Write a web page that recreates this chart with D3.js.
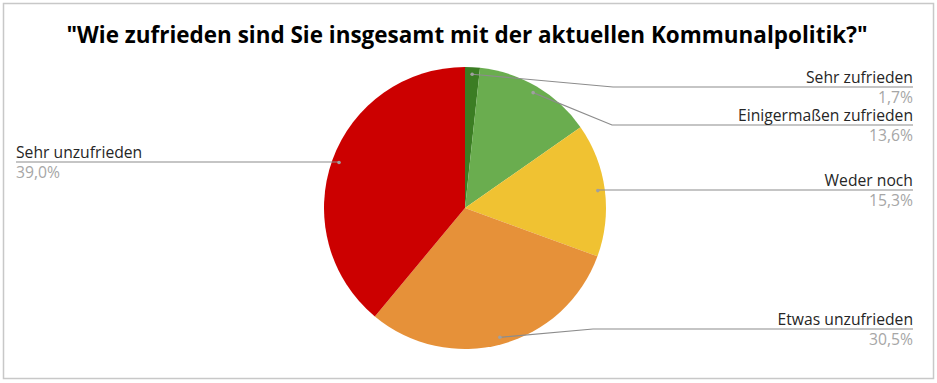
<!DOCTYPE html>
<html><head><meta charset="utf-8">
<script src="https://cdn.jsdelivr.net/npm/d3@7"></script>
<style>body{margin:0;background:#fff}svg{display:block}</style>
</head><body>
<script>
const title = '"Wie zufrieden sind Sie insgesamt mit der aktuellen Kommunalpolitik?"';
const categories = ["Sehr zufrieden","Einigermaßen zufrieden","Weder noch","Etwas unzufrieden","Sehr unzufrieden"];
const values = [1.7, 13.6, 15.3, 30.5, 39.0];
const valueLabels = ["1,7%","13,6%","15,3%","30,5%","39,0%"];
const colors = ["#3b7d23","#6aad4f","#f0c232","#e69139","#cc0000"];

const W = 937, H = 383;
const svg = d3.select("body").append("svg").attr("width", W).attr("height", H);
svg.append("rect").attr("x",3.5).attr("y",3.5).attr("width",930).attr("height",375)
  .attr("fill","#fff").attr("stroke","#c8c8c8").attr("stroke-width",1.5);

const font = "'Open Sans', 'Noto Sans', sans-serif";
svg.append("text").attr("x",467).attr("y",43).attr("text-anchor","middle")
  .attr("font-family",font).attr("font-weight","bold").attr("font-size",23)
  .attr("textLength",801).attr("lengthAdjust","spacingAndGlyphs")
  .attr("fill","#000").text(title);

const cx = 465, cy = 208, r = 141;
const pie = d3.pie().sort(null).value(d => d)(values);
const arc = d3.arc().innerRadius(0).outerRadius(r);
const g = svg.append("g").attr("transform",`translate(${cx},${cy})`);
g.selectAll("path").data(pie).join("path").attr("d",arc).attr("fill",(d,i)=>colors[i]);

// label layout: [elbow x, line y, side]
const layout = [
  {ex:613, ly:87, side:"R"},
  {ex:612, ly:125, side:"R"},
  {ex:null, ly:190, side:"R"},
  {ex:593, ly:329, side:"R"},
  {ex:null, ly:162, side:"L"}
];
const inner = d3.arc().innerRadius(r*0.95).outerRadius(r*0.95);
pie.forEach((d,i)=>{
  const c = inner.centroid(d);
  const px = cx + c[0], py = cy + c[1];
  const L = layout[i];
  const endX = L.side === "R" ? 913 : 16;
  const pts = [[px,py]];
  if (L.ex !== null) pts.push([L.ex, L.ly]); else pts.push([px, L.ly]);
  pts.push([endX, L.ly]);
  svg.append("path").attr("d", d3.line()(pts)).attr("fill","none")
    .attr("stroke","#8c8c8c").attr("stroke-width",1.2);
  svg.append("circle").attr("cx",px).attr("cy",py).attr("r",1.8).attr("fill","#a0a0a0");
  const anchor = L.side === "R" ? "end" : "start";
  svg.append("text").attr("x",endX).attr("y",L.ly-4).attr("text-anchor",anchor)
    .attr("font-family",font).attr("font-size",15.7).attr("fill","#262626").text(categories[i]);
  svg.append("text").attr("x",endX).attr("y",L.ly+15.5).attr("text-anchor",anchor)
    .attr("font-family",font).attr("font-size",15.7).attr("fill","#a6a6a6").text(valueLabels[i]);
});
</script>
</body></html>
